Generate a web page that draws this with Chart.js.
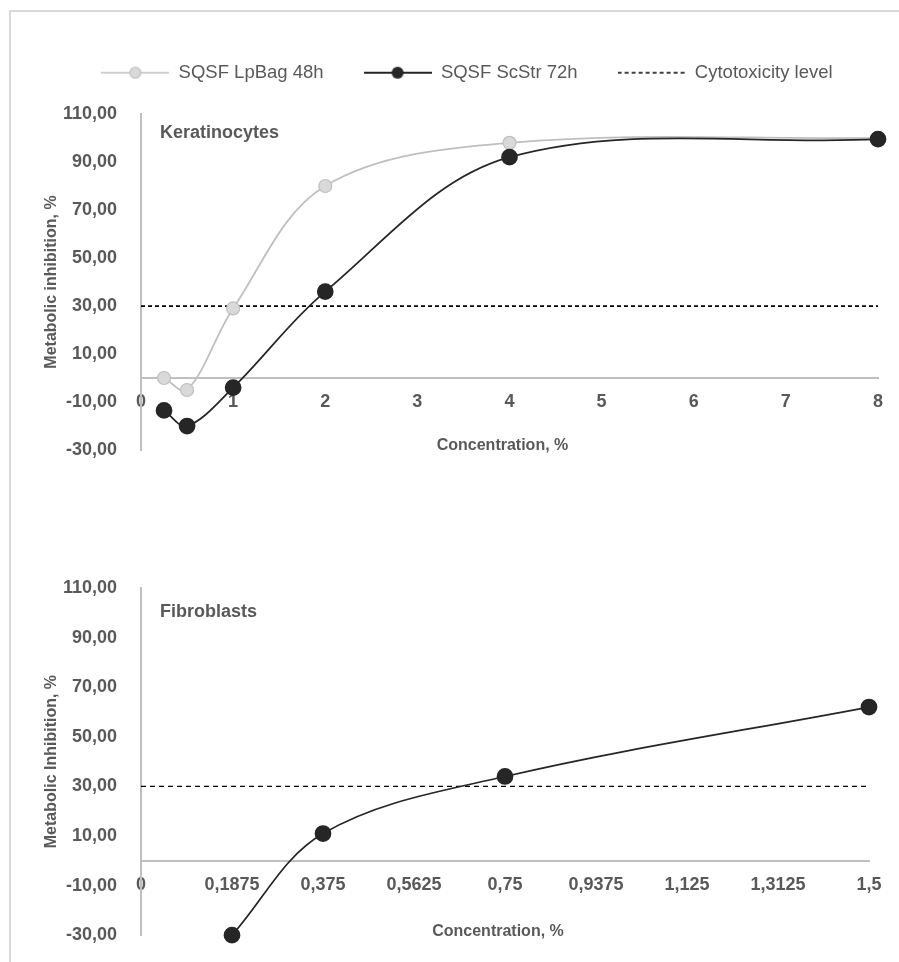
<!DOCTYPE html>
<html>
<head>
<meta charset="utf-8">
<script src="https://cdn.jsdelivr.net/npm/chart.js@4.4.0/dist/chart.umd.min.js"></script>
<style>
  html, body { margin: 0; padding: 0; background: #fff; overflow: hidden; }
  #page { position: relative; width: 899px; height: 962px; overflow: hidden; }
  .frame { position: absolute; left: 9px; top: 10px; width: 1000px; height: 1000px; border: 2px solid #d9d9d9; }
  .box { position: absolute; left: 0; width: 899px; }
  #topBox { top: 0; height: 480px; }
  #bottomBox { top: 480px; height: 482px; }
</style>
</head>
<body>
<div id="page">
  <div class="frame"></div>
  <div class="box" id="topBox"><canvas id="ker-Chart"></canvas></div>
  <div class="box" id="bottomBox"><canvas id="fib-Chart"></canvas></div>
</div>
<script>
// -------------------- DATA --------------------

const seriesNames = ["SQSF LpBag 48h", "SQSF ScStr 72h", "Cytotoxicity level"];

// Keratinocytes panel (concentration, % -> metabolic inhibition, %)
const kerConc = [0.25, 0.5, 1, 2, 4, 8];
const kerLpBag48h = [0, -5, 29, 80, 98, 100];
const kerScStr72h = [-13.5, -20, -4, 36, 92, 99.5];

// Fibroblasts panel
const fibConc = [0.1875, 0.375, 0.75, 1.5];
const fibScStr72h = [-30, 11, 34, 62];

const cytotoxicityLevel = 30;

// Axis ranges / tick steps
const yRange = [-30, 110];
const yStep = 20;
const kerXRange = [0, 8];
const kerXStep = 1;
const fibXRange = [0, 1.5];
const fibXStep = 0.1875;

// -------------------- STYLE --------------------

const FONT = "'Liberation Sans', Arial, sans-serif";
const textGray = "#595959";
const axisGray = "#bfbfbf";
const lightFill = "#d9d9d9";
const dark = "#262626";

Chart.defaults.font.family = FONT;
Chart.defaults.color = textGray;

// comma decimal like the original
const fmtComma = (v) => String(v).replace(".", ",");
const fmtY = (v) => Number(v).toFixed(2).replace(".", ",");

// pair x list with y list for scatter-style lines
const toPoints = (xs, ys) => xs.map((x, i) => ({ x: x, y: ys[i] }));

// Small canvas icons for the legend: line + marker, or dashed line
const ICON_W = 68;
function legendIcon(kind) {
  const c = document.createElement("canvas");
  c.width = ICON_W;
  c.height = 16;
  const g = c.getContext("2d");
  g.beginPath();
  g.moveTo(0, 8);
  g.lineTo(ICON_W, 8);
  if (kind === "dash") {
    g.setLineDash([4, 3]);
    g.strokeStyle = "#000";
    g.lineWidth = 1.5;
    g.stroke();
    return c;
  }
  g.strokeStyle = kind === "gray" ? axisGray : dark;
  g.lineWidth = kind === "gray" ? 1.5 : 2;
  g.stroke();
  g.beginPath();
  g.arc(ICON_W / 2, 8, kind === "gray" ? 5.5 : 6, 0, Math.PI * 2);
  g.fillStyle = kind === "gray" ? lightFill : dark;
  g.fill();
  if (kind === "gray") {
    g.lineWidth = 1.2;
    g.stroke();
  }
  return c;
}

const legendIcons = [legendIcon("gray"), legendIcon("black"), legendIcon("dash")];

// Panel name and x-axis title drawn inside the plot
const panelText = {
  id: "panelText",
  afterDraw(chart, args, opts) {
    const { ctx, chartArea } = chart;
    ctx.save();
    ctx.fillStyle = textGray;
    ctx.textBaseline = "middle";
    ctx.font = "bold 18px " + FONT;
    ctx.textAlign = "left";
    ctx.fillText(opts.name, chartArea.left + 19, chartArea.top + opts.nameOffset);
    ctx.font = "bold 16px " + FONT;
    ctx.textAlign = "center";
    ctx.fillText(opts.xTitle, (chartArea.left + chartArea.right) / 2 - 7, chartArea.bottom - 4);
    ctx.restore();
  },
};

function cytoLine(range, width, dash) {
  return {
    label: seriesNames[2],
    data: [
      { x: range[0], y: cytotoxicityLevel },
      { x: range[1], y: cytotoxicityLevel },
    ],
    borderColor: "#000",
    borderWidth: width,
    borderDash: dash,
    pointRadius: 0,
    order: 3,
    clip: false,
  };
}

function makeOptions(cfg) {
  return {
    responsive: true,
    maintainAspectRatio: false,
    animation: false,
    layout: { padding: cfg.padding },
    plugins: {
      legend: cfg.legend,
      // empty title only used as a gap between legend and plot
      title: cfg.gap
        ? { display: true, text: "", weight: 500, padding: { top: cfg.gap - 12, bottom: 0 }, font: { size: 10 } }
        : { display: false },
      tooltip: { enabled: false },
      panelText: { name: cfg.name, nameOffset: cfg.nameOffset, xTitle: "Concentration, %" },
    },
    scales: {
      x: {
        type: "linear",
        position: { y: 0 }, // axis line sits on the zero value
        min: cfg.xRange[0],
        max: cfg.xRange[1],
        grid: { display: false },
        border: { display: true, color: axisGray, width: 2 },
        ticks: {
          stepSize: cfg.xStep,
          autoSkip: false,
          maxRotation: 0,
          padding: 5,
          color: textGray,
          font: { size: 18, weight: "bold" },
          callback: (v) => fmtComma(v),
        },
      },
      y: {
        type: "linear",
        min: yRange[0],
        max: yRange[1],
        grid: { display: false },
        border: { display: true, color: axisGray, width: 2 },
        ticks: {
          stepSize: yStep,
          padding: 16,
          color: textGray,
          font: { size: 18, weight: "bold" },
          callback: (v) => fmtY(v),
        },
        title: {
          display: true,
          text: cfg.yTitle,
          color: textGray,
          font: { size: 16, weight: "bold" },
          padding: { top: -14, bottom: 0 },
        },
        afterFit: (scale) => {
          scale.width = 85; // fixed so plot starts at x=141 in both panels
        },
      },
    },
  };
}

// -------------------- KERATINOCYTES CHART --------------------

const kerChart = new Chart(document.getElementById("ker-Chart"), {
  type: "line",
  data: {
    datasets: [
      {
        label: seriesNames[0],
        data: toPoints(kerConc, kerLpBag48h),
        borderColor: axisGray,
        borderWidth: 1.75,
        pointBackgroundColor: lightFill,
        pointBorderColor: axisGray,
        pointBorderWidth: 1.2,
        pointRadius: 6.5,
        tension: 0.35,
        order: 2,
        clip: false,
      },
      {
        label: seriesNames[1],
        data: toPoints(kerConc, kerScStr72h),
        borderColor: dark,
        borderWidth: 1.75,
        pointBackgroundColor: dark,
        pointBorderColor: dark,
        pointRadius: 7.5,
        tension: 0.35,
        order: 1,
        clip: false,
      },
      cytoLine(kerXRange, 1.75, [4, 3]),
    ],
  },
  options: makeOptions({
    name: "Keratinocytes",
    nameOffset: 19,
    yTitle: "Metabolic inhibition, %",
    xRange: kerXRange,
    xStep: kerXStep,
    padding: { top: 23.5, left: 56, right: 21, bottom: 30 },
    gap: 22,
    legend: {
      display: true,
      position: "top",
      labels: {
        color: textGray,
        font: { size: 18.5 },
        usePointStyle: true,
        pointStyleWidth: ICON_W,
        padding: 40,
        generateLabels: (chart) =>
          chart.data.datasets.map((ds, i) => ({
            text: ds.label,
            pointStyle: legendIcons[i],
            fillStyle: "transparent",
            strokeStyle: "transparent",
            lineWidth: 0,
            fontColor: textGray,
            hidden: false,
            datasetIndex: i,
          })),
      },
    },
  }),
  plugins: [panelText],
});

// -------------------- FIBROBLASTS CHART --------------------

const fibChart = new Chart(document.getElementById("fib-Chart"), {
  type: "line",
  data: {
    datasets: [
      {
        label: seriesNames[1],
        data: toPoints(fibConc, fibScStr72h),
        borderColor: dark,
        borderWidth: 1.75,
        pointBackgroundColor: dark,
        pointBorderColor: dark,
        pointRadius: 7.5,
        tension: 0.35,
        order: 1,
        clip: false,
      },
      cytoLine(fibXRange, 1.25, [5, 4]),
    ],
  },
  options: makeOptions({
    name: "Fibroblasts",
    nameOffset: 24,
    yTitle: "Metabolic Inhibition, %",
    xRange: fibXRange,
    xStep: fibXStep,
    padding: { top: 108, left: 56, right: 30, bottom: 26 },
    gap: 0,
    legend: { display: false },
  }),
  plugins: [panelText],
});
</script>
</body>
</html>
